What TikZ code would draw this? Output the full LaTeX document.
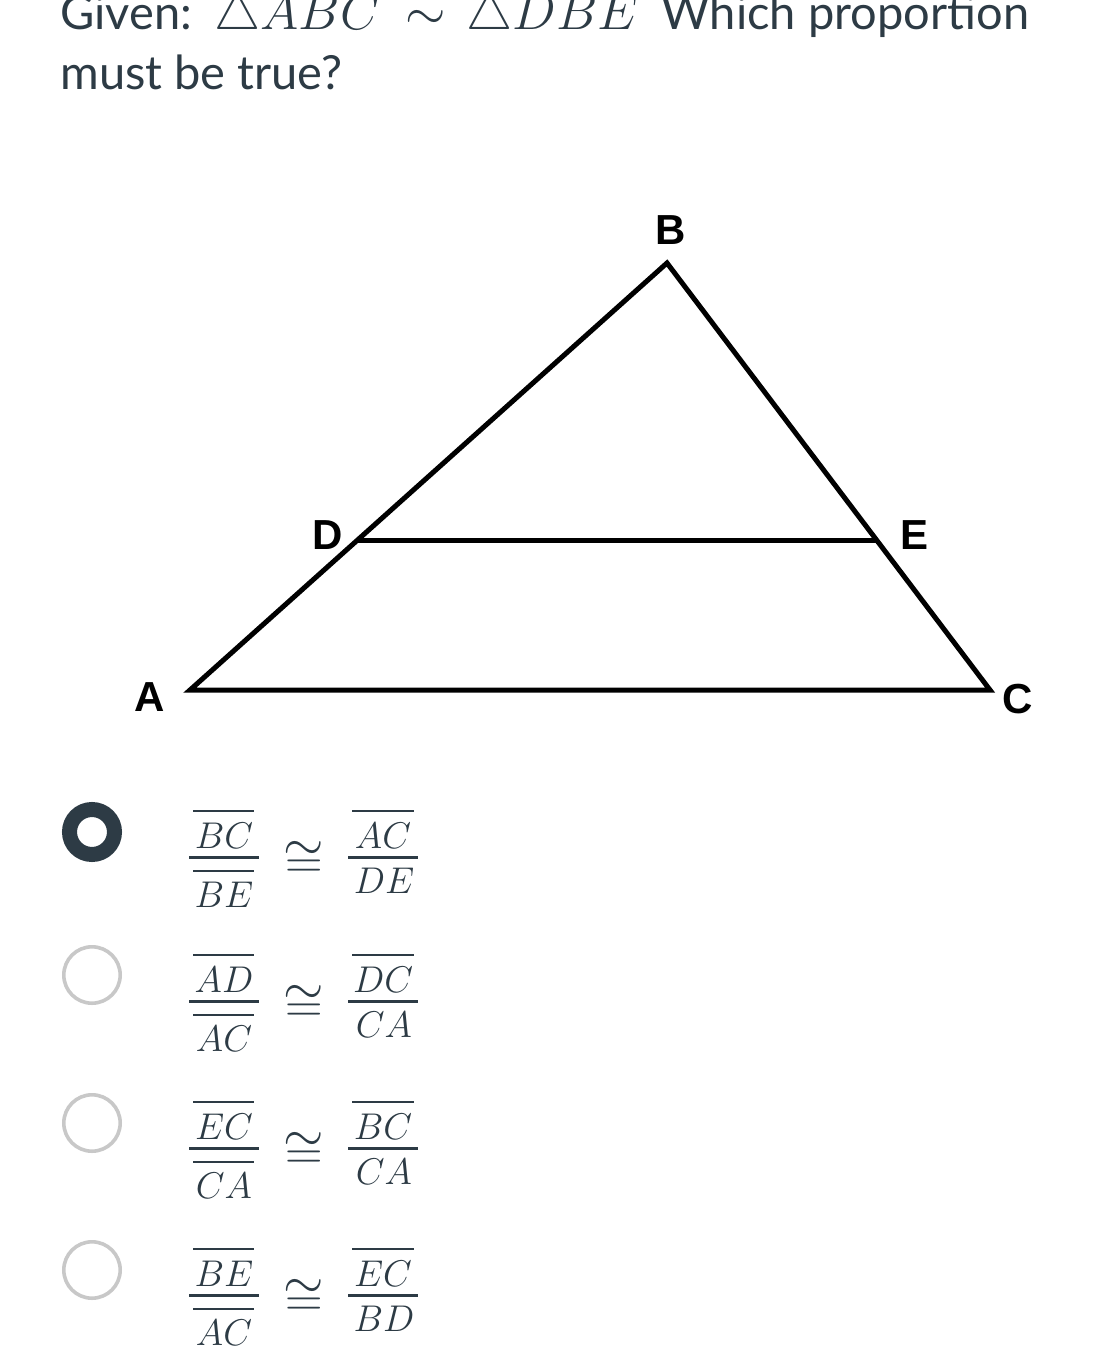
\RequirePackage{fix-cm}
\documentclass[tikz,border=0pt]{standalone}
\usepackage{fontspec}
\setmainfont{Lato}
\newfontfamily\labelfont{Liberation Sans}
\definecolor{ink}{HTML}{2D3B45}
\definecolor{ring}{HTML}{C8C8C8}
\tikzset{
  ttl/.style={font=\fontsize{23.5}{28}\selectfont, text=ink, inner sep=0pt, anchor=base west},
  mth/.style={font=\fontsize{26}{30}\selectfont, text=ink, inner sep=0pt},
  fl/.style={font=\fontsize{18.6}{22}\selectfont, text=ink, inner sep=0pt, anchor=base},
  congsym/.style={font=\fontsize{26}{30}\selectfont, text=ink, inner sep=0pt, anchor=base},
  lbl/.style={font=\labelfont\bfseries\fontsize{21}{25}\selectfont, inner sep=0pt},
  ovl/.style={draw=ink, line width=1.1pt},
  fbar/.style={draw=ink, line width=1.5pt},
  edge/.style={draw=black, line width=2.5pt, line join=miter},
  radiosel/.style={circle, draw=ink, line width=7.5pt, fill=white, minimum size=22.5pt, inner sep=0pt},
  radiooff/.style={circle, draw=ring, line width=1.8pt, fill=white, minimum size=28.2pt, inner sep=0pt}
}
\newcommand\optrow[6]{%
  \node[fl] (#1ln) at (224,#2-9) {$#3$};
  \draw[ovl] (193,#2-46) -- (254,#2-46);
  \draw[fbar] (189,#2) -- (259,#2);
  \draw[ovl] (193,#2+14) -- (254,#2+14);
  \node[fl] (#1ld) at (224,#2+50) {$#4$};
  \node[congsym] (#1eq) at (304,#2+20) {$\cong$};
  \node[fl] (#1rn) at (383,#2-9) {$#5$};
  \draw[ovl] (352,#2-46) -- (414,#2-46);
  \draw[fbar] (348,#2) -- (418,#2);
  \node[fl] (#1rd) at (384,#2+36) {$#6$};
}
\begin{document}
\begin{tikzpicture}[x=0.5pt,y=-0.5pt]
\useasboundingbox[fill=white] (0,0) rectangle (1095,1348);
% title
\node[ttl] (given) at (60,30) {Given:};
\node[mth, anchor=base west] (t1) at (214,30) {$\triangle ABC$};
\node[mth, anchor=base] (sim) at (426,30) {$\sim$};
\node[mth, anchor=base west] (t2) at (466,30) {$\triangle DBE$};
\node[ttl] (which) at (661,30) {Which proportion};
\node[ttl] (must) at (60,90) {must be true?};
% triangle
\coordinate (A) at (190,690);
\coordinate (B) at (667,263);
\coordinate (C) at (990,690);
\coordinate (D) at (358,540);
\coordinate (E) at (876,540);
\draw[edge] (A) -- (B) -- (C) -- cycle;
\draw[edge] (D) -- (E);
\node[lbl] (la) at (150,697) {A};
\node[lbl] (lb) at (671,230) {B};
\node[lbl] (lc) at (1018,699) {C};
\node[lbl] (ld) at (328,535) {D};
\node[lbl] (le) at (914,535) {E};
% options
\node[radiosel] (r1) at (92,832) {};
\node[radiooff] (r2) at (92,975) {};
\node[radiooff] (r3) at (92,1123) {};
\node[radiooff] (r4) at (92,1270) {};
\optrow{a}{857}{BC}{BE}{AC}{DE}
\optrow{b}{1001}{AD}{AC}{DC}{CA}
\optrow{c}{1148}{EC}{CA}{BC}{CA}
\optrow{d}{1295}{BE}{AC}{EC}{BD}
\end{tikzpicture}
\end{document}
